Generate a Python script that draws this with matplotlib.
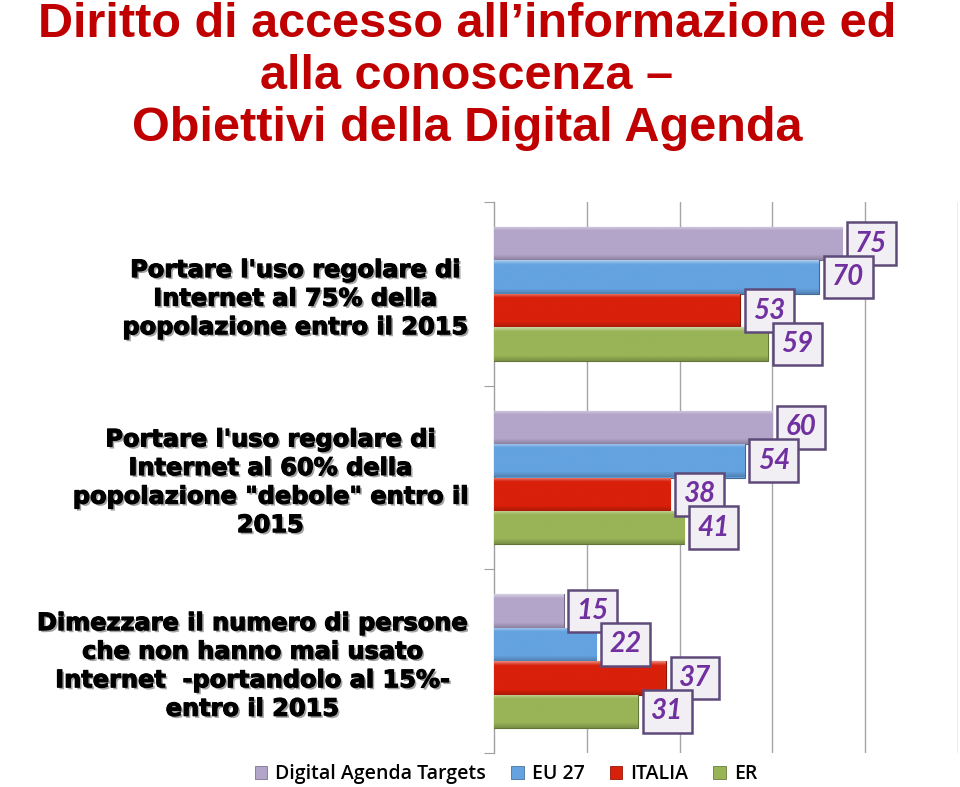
import numpy as np
import matplotlib
matplotlib.use("Agg")
import matplotlib.pyplot as plt
import matplotlib.patheffects as pe
from matplotlib.colors import to_rgb
from matplotlib.patches import Patch

# ---------------- data ----------------
categories = [
    "Portare l'uso regolare di\nInternet al 75% della\npopolazione entro il 2015",
    "Portare l'uso regolare di\nInternet al 60% della\npopolazione \"debole\" entro il\n2015",
    "Dimezzare il numero di persone\nche non hanno mai usato\nInternet  -portandolo al 15%-\nentro il 2015",
]
series_names = ["Digital Agenda Targets", "EU 27", "ITALIA", "ER"]
targets = [75, 60, 15]
eu27 = [70, 54, 22]
italia = [53, 38, 37]
er = [59, 41, 31]
title_lines = ["Diritto di accesso all\u2019informazione ed",
               "alla conoscenza \u2013",
               "Obiettivi della Digital Agenda"]

series_values = [targets, eu27, italia, er]
colors = ["#B3A4C9", "#64A2E0", "#D8200A", "#98B457"]

# ---------------- figure ----------------
W, H = 960, 787
fig = plt.figure(figsize=(W / 100, H / 100), dpi=100)
fig.patch.set_facecolor("white")

ax = fig.add_axes([494 / W, 1 - 753 / H, 464 / W, 551 / H])
ax.set_xlim(0, 100)
ax.set_ylim(0, 3)

bar_h = 0.1815
n_groups = len(categories)
centers = np.array([n_groups - 0.5 - g for g in range(n_groups)])


def shade(c, f):
    r = np.array(to_rgb(c))
    if f > 0:
        return r + (1 - r) * f
    return r * (1 + f)


for k, (vals, col) in enumerate(zip(series_values, colors)):
    ypos = centers + (1.5 - k) * bar_h
    bars = ax.barh(ypos, vals, height=bar_h, color=col,
                   edgecolor=shade(col, -0.35), linewidth=0.8, zorder=3)
    # bevel gradient
    n = 40
    t = np.linspace(0, 1, n)
    base = np.array(to_rgb(col))
    light = shade(col, 0.45)
    dark = shade(col, -0.2)
    grad = np.zeros((n, 1, 3))
    for i, tt in enumerate(t):
        if tt < 0.12:
            grad[i, 0] = light + (base - light) * (tt / 0.12)
        elif tt > 0.85:
            grad[i, 0] = base + (dark - base) * ((tt - 0.85) / 0.15)
        else:
            grad[i, 0] = base
    for rect in bars:
        x0, y0 = rect.get_x(), rect.get_y()
        w, h = rect.get_width(), rect.get_height()
        im = ax.imshow(grad, extent=[x0, x0 + w, y0, y0 + h], origin="upper",
                       aspect="auto", zorder=3.5, interpolation="bilinear")
        im.set_clip_path(rect)
    for v, y in zip(vals, ypos):
        ax.annotate(str(v), xy=(v, y), xytext=(9.5, 0), textcoords="offset points",
                    ha="left", va="center", fontsize=20, fontweight="bold",
                    fontstyle="italic", family=["Lato", "DejaVu Sans"],
                    color="#7030A0", zorder=6,
                    bbox=dict(boxstyle="square,pad=0.3", fc="#F1EFF3",
                              ec="#5E4A7A", lw=1.8))

ax.set_xlim(0, 100)
ax.set_ylim(0, 3)

# grid
ax.set_xticks([20, 40, 60, 80, 100])
ax.xaxis.grid(True, color="#A6A6A6", lw=1.0, zorder=0)
ax.tick_params(axis="x", length=0, labelbottom=False)
for s in ["top", "right", "bottom"]:
    ax.spines[s].set_visible(False)
ax.spines["left"].set_color("#A0A0A0")
ax.spines["left"].set_linewidth(1.0)

# y ticks: boundaries major, category labels minor
ax.set_yticks([0, 1, 2, 3])
ax.tick_params(axis="y", which="major", length=7, color="#A0A0A0",
               direction="out", labelleft=False)
ax.set_yticks(centers, minor=True)
ax.set_yticklabels(categories, minor=True)
ax.tick_params(axis="y", which="minor", length=0, pad=19)
for lab in ax.get_yticklabels(minor=True):
    lab.set_multialignment("center")
    lab.set_family(["DejaVu Sans"])
    lab.set_fontweight("bold")
    lab.set_fontsize(17.3)
    lab.set_color("black")
    lab.set_linespacing(1.24)
    lab.set_path_effects([pe.SimplePatchShadow(offset=(1.5, -1.5),
                                               shadow_rgbFace="#8C8C8C",
                                               alpha=0.8),
                          pe.withStroke(linewidth=0.8, foreground="black")])

# title
title_y = [37, 89, 141]
for line, yb in zip(title_lines, title_y):
    fig.text(467 / W, 1 - yb / H, line, ha="center", va="baseline",
             fontsize=35, fontweight="bold",
             family=["Liberation Sans"],
             color="#C00000")

# legend
handles = [Patch(facecolor=c, edgecolor=shade(c, -0.3), lw=0.6) for c in colors]
leg = fig.legend(handles, series_names, loc="center",
                 bbox_to_anchor=(506 / W, 1 - 774 / H), ncol=4, frameon=False,
                 handlelength=0.65, handleheight=0.65, handletextpad=0.4,
                 columnspacing=1.3, prop=dict(family=["Open Sans", "DejaVu Sans"],
                                              weight="semibold", size=14))

fig.savefig("out.png", dpi=100)
